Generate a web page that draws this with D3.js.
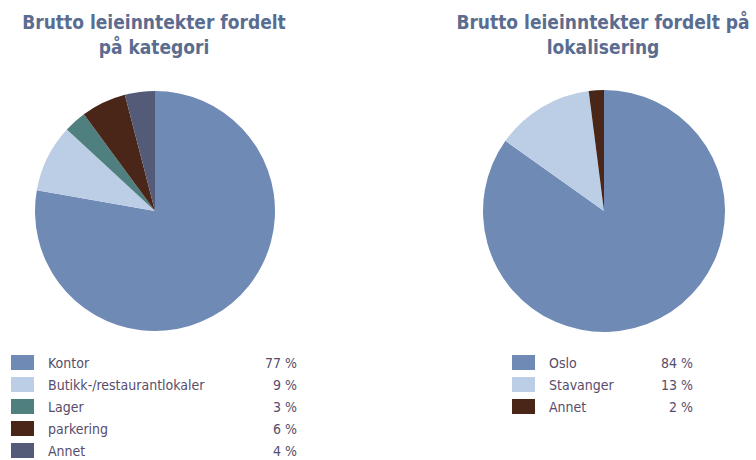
<!DOCTYPE html>
<html>
<head>
<meta charset="utf-8">
<script src="https://cdn.jsdelivr.net/npm/d3@7"></script>
<style>
  body { margin: 0; background: #fff; }
  svg { display: block; }
  text { font-family: "DejaVu Sans Condensed", "DejaVu Sans", sans-serif; }
</style>
</head>
<body>
<svg id="chart" width="756" height="460"></svg>
<script>
// category pie
const catLabels = ["Kontor", "Butikk-/restaurantlokaler", "Lager", "parkering", "Annet"];
const catValues = [77, 9, 3, 6, 4];
const catColors = ["#6f8ab5", "#bccee5", "#4f7f7f", "#4a2619", "#545b78"];

// location pie
const locLabels = ["Oslo", "Stavanger", "Annet"];
const locValues = [84, 13, 2];
const locColors = ["#6f8ab5", "#bccee5", "#4a2619"];

const svg = d3.select("#chart");

function drawPanel(opts) {
  const g = svg.append("g");

  // title
  const title = g.append("text")
    .attr("x", opts.titleX)
    .attr("y", 29)
    .attr("text-anchor", "middle")
    .attr("fill", "#5a6c90")
    .style("font-size", "19px")
    .style("font-weight", "bold");
  opts.title.forEach((t, i) => {
    title.append("tspan").attr("x", opts.titleX).attr("dy", i ? 25 : 0).text(t);
  });

  const data = opts.labels.map((l, i) => ({ label: l, value: opts.values[i], color: opts.colors[i] }));

  const pie = d3.pie().sort(null).value(d => d.value);
  const arc = d3.arc().innerRadius(0).outerRadius(opts.r);

  g.append("g")
    .attr("transform", `translate(${opts.cx},${opts.cy})`)
    .selectAll("path")
    .data(pie(data))
    .join("path")
    .attr("d", arc)
    .attr("fill", d => d.data.color);

  // legend
  const y = d3.scaleBand().domain(opts.labels).range([opts.legendY, opts.legendY + 22 * opts.labels.length]);
  const leg = g.append("g").selectAll("g").data(data).join("g")
    .attr("transform", d => `translate(0,${y(d.label)})`);

  leg.append("rect")
    .attr("x", opts.legendX)
    .attr("y", 0)
    .attr("width", 23)
    .attr("height", 15)
    .attr("fill", d => d.color);

  leg.append("text")
    .attr("x", opts.legendX + 37)
    .attr("y", 12.5)
    .attr("fill", "#574d6c")
    .style("font-size", "14px")
    .text(d => d.label);

  leg.append("text")
    .attr("x", opts.pctX)
    .attr("y", 12.5)
    .attr("text-anchor", "end")
    .attr("fill", "#574d6c")
    .style("font-size", "14px")
    .text(d => d.value + " %");
}

drawPanel({
  title: ["Brutto leieinntekter fordelt", "på kategori"],
  titleX: 154, cx: 155, cy: 211, r: 120,
  labels: catLabels, values: catValues, colors: catColors,
  legendX: 11, legendY: 355, pctX: 297
});

drawPanel({
  title: ["Brutto leieinntekter fordelt på", "lokalisering"],
  titleX: 603, cx: 604, cy: 211, r: 121,
  labels: locLabels, values: locValues, colors: locColors,
  legendX: 512, legendY: 355, pctX: 693
});
</script>
</body>
</html>
